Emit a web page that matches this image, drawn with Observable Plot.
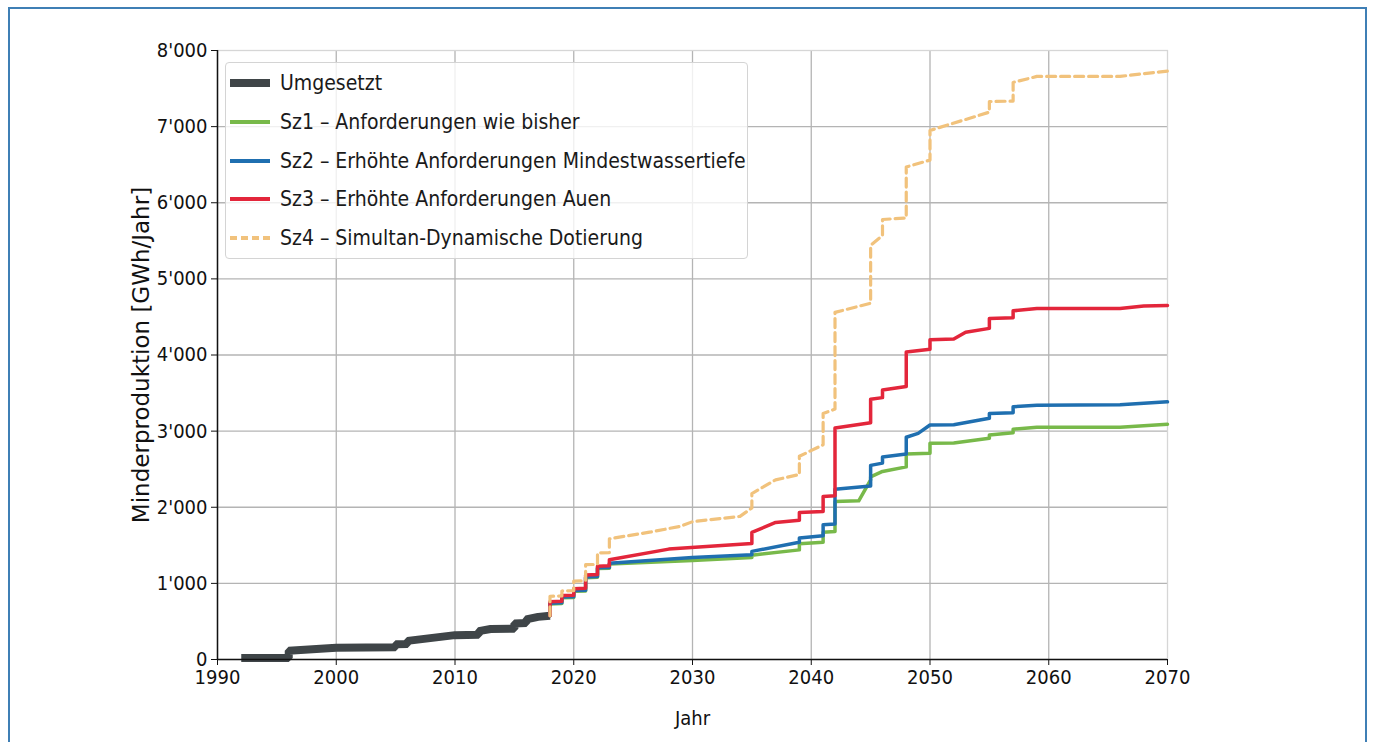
<!DOCTYPE html>
<html>
<head>
<meta charset="utf-8">
<script src="https://cdn.jsdelivr.net/npm/d3@7"></script>
<script src="https://cdn.jsdelivr.net/npm/@observablehq/plot@0.6"></script>
<style>
  body { margin: 0; background: #fff; }
  #wrap { position: relative; width: 1375px; height: 742px; overflow: hidden; background: #fff; }
  #frame { position: absolute; left: 8px; top: 7px; width: 1359px; height: 800px; border: 2px solid #3f7fb5; box-sizing: border-box; pointer-events: none; }
  #chart { position: absolute; left: 0; top: 0; }
  #legend { position: absolute; left: 225px; top: 62px; width: 523px; height: 197px; box-sizing: border-box;
            border: 1px solid #d4d4d4; border-radius: 4px; background: rgba(255,255,255,0.8);
            font-family: "DejaVu Sans Condensed", "DejaVu Sans", sans-serif; font-size: 21px; color: #1a1a1a; }
  .row { position: absolute; left: 0; height: 30px; }
  .row svg { position: absolute; left: 3px; top: 0; }
  .row span { position: absolute; left: 54px; white-space: nowrap; line-height: 30px; top: 0; }
</style>
</head>
<body>
<div id="wrap">
  <div id="chart"></div>
  <div id="legend"></div>
  <div id="frame"></div>
</div>
<script>
// ---- data ----
const xTicks = [1990, 2000, 2010, 2020, 2030, 2040, 2050, 2060, 2070];
const yTicks = [0, 1000, 2000, 3000, 4000, 5000, 6000, 7000, 8000];

const seriesNames = [
  "Umgesetzt",
  "Sz1 \u2013 Anforderungen wie bisher",
  "Sz2 \u2013 Erh\u00f6hte Anforderungen Mindestwassertiefe",
  "Sz3 \u2013 Erh\u00f6hte Anforderungen Auen",
  "Sz4 \u2013 Simultan-Dynamische Dotierung"
];
const seriesColors = ["#3f4548", "#78b94a", "#1f6fb0", "#e3263b", "#f1c27c"];

const umgYears  = [1992, 1996, 1996, 2000, 2005, 2005, 2006, 2006, 2010, 2012, 2012, 2013, 2015, 2015, 2016, 2016, 2017, 2018];
const umgValues = [  20,   20,  115,  155,  160,  200,  205,  245,  320,  325,  372,  400,  405,  474,  480,  526,  560,  575];

const sz1Years  = [2018, 2018, 2019, 2019, 2020, 2020, 2021, 2021, 2022, 2022, 2023, 2023, 2030, 2035, 2035, 2039, 2039, 2041, 2041, 2042, 2042, 2044, 2045, 2045, 2046, 2048, 2048, 2050, 2050, 2052, 2055, 2055, 2057, 2057, 2059, 2066, 2070];
const sz1Values = [ 575,  730,  735,  810,  815,  895,  900, 1075, 1080, 1195, 1200, 1255, 1300, 1340, 1370, 1440, 1520, 1540, 1670, 1680, 2075, 2085, 2360, 2400, 2470, 2530, 2700, 2710, 2840, 2845, 2905, 2950, 2980, 3025, 3050, 3050, 3090];

const sz2Years  = [2018, 2018, 2019, 2019, 2020, 2020, 2021, 2021, 2022, 2022, 2023, 2023, 2030, 2035, 2035, 2039, 2039, 2041, 2041, 2042, 2042, 2045, 2045, 2046, 2046, 2048, 2048, 2049, 2050, 2052, 2055, 2055, 2057, 2057, 2059, 2066, 2070];
const sz2Values = [ 575,  740,  745,  820,  825,  905,  910, 1085, 1090, 1205, 1210, 1265, 1340, 1375, 1420, 1540, 1595, 1625, 1770, 1780, 2235, 2280, 2550, 2580, 2660, 2700, 2920, 2970, 3080, 3085, 3170, 3230, 3240, 3320, 3340, 3345, 3385];

const sz3Years  = [2018, 2018, 2019, 2019, 2020, 2020, 2021, 2021, 2022, 2022, 2023, 2023, 2028, 2035, 2035, 2037, 2039, 2039, 2041, 2041, 2042, 2042, 2045, 2045, 2046, 2046, 2048, 2048, 2050, 2050, 2052, 2053, 2055, 2055, 2057, 2057, 2059, 2066, 2068, 2070];
const sz3Values = [ 575,  760,  765,  840,  845,  930,  935, 1110, 1115, 1225, 1230, 1310, 1450, 1525, 1670, 1800, 1830, 1930, 1945, 2140, 2150, 3040, 3110, 3420, 3440, 3540, 3585, 4040, 4075, 4200, 4210, 4300, 4350, 4480, 4490, 4580, 4610, 4610, 4645, 4650];

const sz4Years  = [2018, 2018, 2019, 2019, 2020, 2020, 2021, 2021, 2022, 2022, 2023, 2023, 2026.5, 2029, 2030, 2034, 2035, 2035, 2037, 2039, 2039, 2041, 2041, 2042, 2042, 2045, 2045, 2046, 2046, 2048, 2048, 2050, 2050, 2055, 2055, 2057, 2057, 2059, 2066, 2070];
const sz4Values = [ 575,  830,  835,  900,  905, 1030, 1035, 1245, 1250, 1400, 1405, 1585, 1676, 1750, 1810, 1880, 1990, 2180, 2360, 2430, 2670, 2820, 3230, 3290, 4560, 4680, 5440, 5570, 5780, 5800, 6470, 6560, 6950, 7190, 7330, 7335, 7580, 7660, 7660, 7730];

// ---- build tables ----
function toPoints(xs, ys) { return xs.map((x, i) => ({ x, y: ys[i] })); }
const umg = toPoints(umgYears, umgValues);
const sz1 = toPoints(sz1Years, sz1Values);
const sz2 = toPoints(sz2Years, sz2Values);
const sz3 = toPoints(sz3Years, sz3Values);
const sz4 = toPoints(sz4Years, sz4Values);

const fmtY = d => d === 0 ? "0" : d3.format(",")(d).replace(",", "'");

const chart = Plot.plot({
  width: 1375,
  height: 742,
  marginLeft: 217,
  marginRight: 208,
  marginTop: 50,
  marginBottom: 83,
  x: { domain: [1990, 2070], label: null },
  y: { domain: [0, 8000], label: null },
  style: { fontFamily: "'DejaVu Sans Condensed', 'DejaVu Sans', sans-serif", fontSize: "20px", color: "#111", background: "transparent" },
  marks: [
    Plot.ruleX(xTicks.slice(1, -1), { stroke: "#b4b4b4", strokeWidth: 1.3 }),
    Plot.ruleY(yTicks.slice(1, -1), { stroke: "#b4b4b4", strokeWidth: 1.3 }),
    Plot.frame({ stroke: "#d6d6d6", strokeWidth: 1.3 }),
    Plot.line(umg, { x: "x", y: "y", stroke: seriesColors[0], strokeWidth: 8, strokeLinejoin: "miter", strokeLinecap: "butt" }),
    Plot.line(sz1, { x: "x", y: "y", stroke: seriesColors[1], strokeWidth: 3.5 }),
    Plot.line(sz2, { x: "x", y: "y", stroke: seriesColors[2], strokeWidth: 3.5 }),
    Plot.line(sz3, { x: "x", y: "y", stroke: seriesColors[3], strokeWidth: 3.5 }),
    Plot.line(sz4, { x: "x", y: "y", stroke: seriesColors[4], strokeWidth: 3.2, strokeDasharray: "9,5" }),
    Plot.ruleX([1990], { stroke: "#111", strokeWidth: 1.5 }),
    Plot.ruleY([0], { stroke: "#111", strokeWidth: 1.5 }),
    Plot.axisX({ ticks: xTicks, tickFormat: d => String(d), tickSize: 6, tickPadding: 4, label: null, stroke: "#111" }),
    Plot.axisY({ ticks: yTicks, tickFormat: fmtY, tickSize: 6, tickPadding: 4, label: null, stroke: "#111" }),
    Plot.text(["Jahr"], { frameAnchor: "bottom", dy: 59, lineAnchor: "middle", fontSize: 20, fill: "#111" }),
    Plot.text(["Minderproduktion [GWh/Jahr]"], { frameAnchor: "left", textAnchor: "middle", dx: -76, rotate: -90, lineAnchor: "middle", fontSize: 23, fill: "#111", fontFamily: "'DejaVu Sans', sans-serif", letterSpacing: "0.6px" })
  ]
});
document.getElementById("chart").appendChild(chart);

// ---- legend ----
const legend = document.getElementById("legend");
const rowTops = [5, 44, 83, 121, 160];
seriesNames.forEach((name, i) => {
  const row = document.createElement("div");
  row.className = "row";
  row.style.top = rowTops[i] + "px";
  const w = i === 0 ? 8 : 4;
  const dash = i === 4 ? 'stroke-dasharray="7,4"' : "";
  row.innerHTML = `<svg width="42" height="30"><line x1="1" y1="15" x2="41" y2="15" stroke="${seriesColors[i]}" stroke-width="${w}" ${dash}/></svg><span>${name}</span>`;
  legend.appendChild(row);
});
</script>
</body>
</html>
